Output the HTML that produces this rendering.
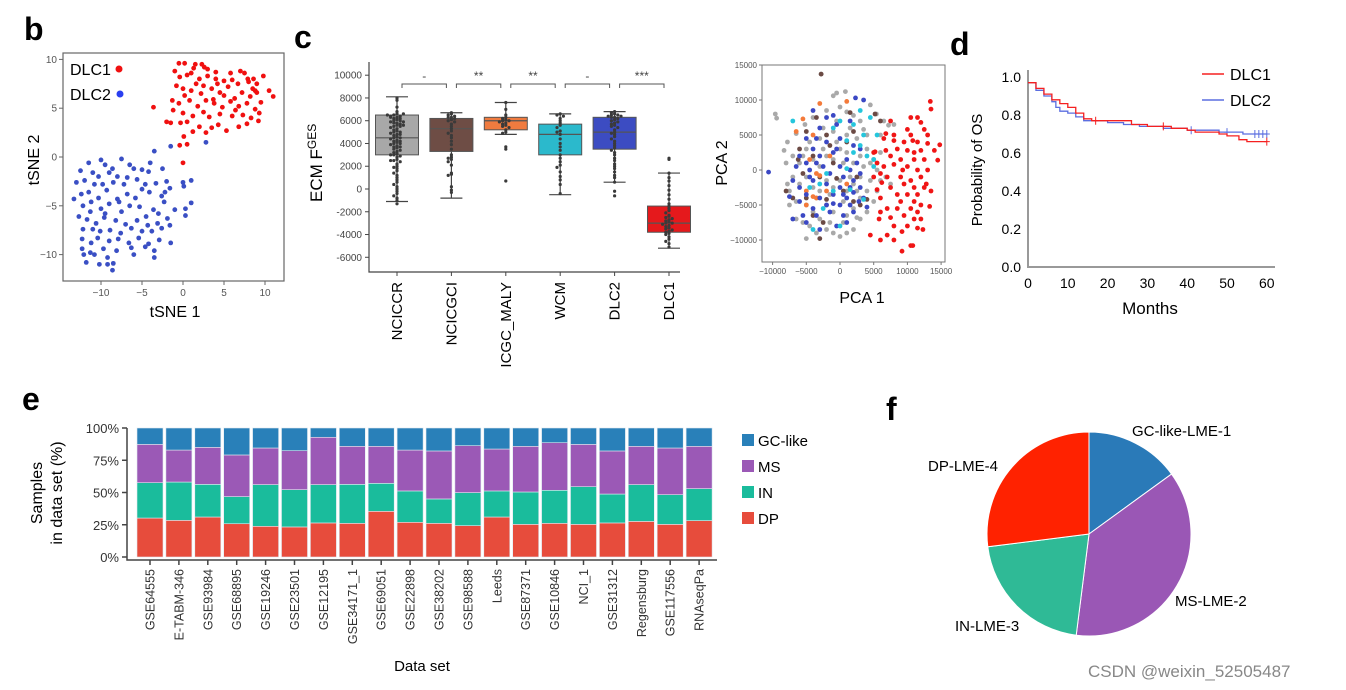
<!DOCTYPE html>
<html><head><meta charset="utf-8"><style>
html,body{margin:0;padding:0;background:#fff}
svg{display:block;font-family:"Liberation Sans",Arial,sans-serif}
</style></head><body>
<svg id="fig" width="1346" height="690" viewBox="0 0 1346 690">
<text x="24" y="40" font-size="32" font-weight="bold">b</text>
<text x="294" y="48" font-size="32" font-weight="bold">c</text>
<text x="950" y="55" font-size="32" font-weight="bold">d</text>
<text x="22" y="410" font-size="32" font-weight="bold">e</text>
<text x="886" y="420" font-size="32" font-weight="bold">f</text>
<g id="gb"></g>
<g id="gc"></g>
<g id="gp"></g>
<g id="gd"></g>
<g id="ge"></g>
<g id="gf"></g>
<text x="1088" y="677" font-size="17" fill="#888">CSDN @weixin_52505487</text>
</svg>
<script>
// ---------- data ----------
const tsneRed=[[-0.5,9.6],[0.2,9.6],[1.5,9.5],[2.3,9.5],[2.6,9.2],[-1,8.8],[0.5,8.4],[1,8.6],[2,8.0],[3,8.3],[4,8],[5,7.8],[6,7.9],[7,8.8],[7.5,8.6],[8,7.7],[9,7.5],[9.8,8.3],[10.5,6.8],[11,6.2],[-0.8,7.3],[0,7],[1,6.8],[2.2,6.5],[3.5,7],[4.5,6.6],[5.5,7.2],[6.3,6],[7.2,6.6],[8.2,6.2],[9,6.6],[-1.3,5.8],[-0.5,5.5],[0.8,5.8],[1.8,5.2],[2.8,5.8],[3.8,5.5],[4.8,5.1],[5.8,5.7],[6.8,5.2],[7.8,5.5],[8.8,4.9],[9.3,4.5],[-1.2,4.8],[0,4.5],[1.2,4.2],[2.5,4.6],[3.2,4.1],[4.5,4.4],[6,4.2],[7.3,4.3],[8.3,4],[9.2,3.7],[-2,3.6],[-1.5,3.5],[-0.3,3.5],[0.5,3.6],[2,3.1],[3.5,3.0],[4.3,3.3],[5.3,2.7],[6.8,3.1],[7.8,3.4],[1.2,2.6],[2.8,2.5],[0.1,2.1],[-0.4,1.2],[0.5,1.3],[-3.6,5.1],[0,-0.6],[8.5,7.0],[6.7,7.5],[4,8.7],[3,9.0],[1.6,7.5],[5,6.3],[7.9,8],[8.8,6.8],[9.5,5.6],[6.4,4.8],[3.7,5.9],[0.2,6.3],[2.5,7.3],[-0.4,8.2],[1.3,9.1],[5.8,8.6],[8.6,8.0],[4.2,7.5]];
const tsneBlue=[[-11.5,-0.6],[-10,-0.3],[-9.5,-0.8],[-7.5,-0.2],[-6.5,-0.8],[-4,-0.6],[-3.5,0.6],[-1.5,1.1],[2.8,1.5],[-12.5,-1.4],[-11,-1.6],[-10.3,-2],[-9,-1.6],[-8,-2],[-6,-1.2],[-5,-1.3],[-4.2,-1.5],[-2.5,-1.2],[-13,-2.6],[-12,-2.4],[-10.8,-2.8],[-9.8,-2.8],[-8.5,-2.6],[-7.2,-2.8],[-5.6,-2.3],[-4.6,-2.8],[-3.3,-2.7],[-2,-2.5],[0,-2.6],[1,-2.4],[-12.4,-3.8],[-11.5,-3.6],[-10.3,-4.2],[-9.3,-3.4],[-8,-4.3],[-6.8,-3.8],[-5.8,-4.2],[-4.1,-3.6],[-2.6,-4],[-1.6,-3.2],[0.1,-3],[-13.3,-4.3],[-12.2,-5],[-11.2,-4.6],[-10,-5.3],[-9,-4.8],[-7.5,-5.6],[-6.5,-5],[-5.3,-5.1],[-3.6,-5.4],[-2.3,-4.6],[-1,-5.4],[0.3,-5.3],[1,-4.7],[-12.7,-6.1],[-11.7,-6.4],[-10.6,-6.8],[-9.6,-6.2],[-8.2,-6.5],[-7,-6.9],[-5.6,-6.5],[-4.5,-6.1],[-3.1,-6.8],[-1.9,-6.3],[0.3,-6],[-12.2,-7.4],[-11,-7.4],[-10.1,-7.6],[-8.9,-7.5],[-7.6,-7.8],[-6.3,-7.3],[-5,-7.6],[-3.8,-7.6],[-2.6,-7.3],[-1.6,-7],[-12.3,-8.4],[-11.2,-8.8],[-10.4,-8.3],[-9,-8.6],[-7.9,-8.4],[-6.6,-8.8],[-5.4,-8.3],[-4.2,-8.9],[-2.9,-8.5],[-1.5,-8.8],[-12.3,-9.4],[-11.3,-9.8],[-9.7,-9.4],[-8.1,-9.6],[-6.3,-9.3],[-4.6,-9.2],[-3.5,-9.6],[-12.1,-10],[-10.8,-10],[-9.2,-10.3],[-6,-10],[-3.5,-10.3],[-11.8,-10.8],[-10.2,-11],[-9.2,-11],[-8.5,-10.9],[-8.6,-11.6],[-7.8,-4.6],[-5,-3.3],[-3,-5.8],[-8.6,-1.2],[-6.8,-2.1],[-2.2,-3.6],[-9.5,-5.8],[-11.3,-5.6],[-4.3,-7]];
const boxCats=["NCICCR","NCICGCI","ICGC_MALY","WCM","DLC2","DLC1"];
const boxQ1=[3000,3300,5200,3000,3500,-3800];
const boxMed=[4500,5300,6000,4800,5000,-3000];
const boxQ3=[6500,6200,6300,5700,6300,-1500];
const boxLo=[-1100,-800,4800,-500,600,-5200];
const boxHi=[8100,6700,7600,6600,6800,1400];
const boxColors=["#a8a8a8","#6e4d45","#f07b3f","#2bb9cc","#3c4cc2","#e5191c"];
const sigLabels=["-","**","**","-","***"];
const swarm=[
[8000,7800,7200,6800,6600,6500,6400,6400,6300,6200,6200,6100,6000,6000,5900,5800,5800,5700,5600,5500,5500,5400,5300,5200,5100,5000,5000,4900,4800,4700,4600,4500,4500,4400,4300,4200,4100,4000,4000,3900,3800,3700,3600,3500,3400,3300,3200,3100,3000,2900,2800,2600,2500,2400,2200,2000,1900,1800,1600,1400,1200,1000,800,600,400,200,0,-200,-400,-600,-800,-1000,-1300,6600,6500,6300,5900,5600,4800,4200,3700,3000,2500],
[6700,6600,6500,6400,6300,6300,6200,6100,6000,5900,5700,5500,5300,5100,4900,4700,4500,4200,3900,3500,3000,2800,2700,2600,2400,2100,1400,1300,1200,200,-100,-300],
[7600,7000,6500,6300,6200,6100,6000,6000,5900,5800,5700,5600,5500,5400,5200,5000,4900,3700,3500,700],
[6600,6500,6400,6200,6000,5800,5600,5400,5100,5000,4800,4400,4000,3700,3400,3000,2700,2400,2100,1900,1500,1100,800,400,-400],
[6800,6700,6600,6500,6500,6400,6400,6300,6300,6200,6100,6000,5900,5800,5700,5600,5500,5400,5200,5000,4900,4800,4600,4400,4200,4000,3800,3600,3400,3200,3000,2700,2500,2200,2000,1800,1500,1200,1000,600,-200,-600],
[2700,2600,1400,1000,700,300,-100,-500,-900,-1300,-1500,-1700,-1900,-2100,-2300,-2400,-2500,-2600,-2700,-2800,-2900,-3000,-3000,-3100,-3200,-3300,-3400,-3500,-3600,-3700,-3800,-3900,-4000,-4200,-4400,-4600,-4800,-5100]];
const pcaGray=[[-9.6,8],[-9.4,7.4],[-2.8,13.7],[-0.5,11],[0.8,11.2],[-1,10.6],[-6.5,5.2],[-7.8,4],[-8.3,2.8],[-7,2],[-5.2,6.5],[-4,7.5],[-2,8.5],[0,9],[1,8.3],[2,7.8],[3,7],[4.5,9.3],[5.4,8],[6.5,7],[7.2,6.4],[8,6.5],[6,5],[4,5],[2.5,4.5],[1,5],[-1,5.5],[-3,4.5],[-5,3],[-6,1],[-7,-1],[-7.5,-3],[-6.5,-4.5],[-7.5,-5],[-6.5,-7],[-5.5,-7.5],[-4.5,-8],[-3.5,-9],[-5,-9.8],[-2,-8.5],[-1,-9],[0,-9.5],[1,-9],[2,-8.5],[3,-7],[4,-6],[5,-4.5],[5.5,-3],[6,-1.5],[5.5,0],[5,1.5],[4,3],[3,2],[2,1],[1,2.5],[0,3],[-1,1.5],[-2,2],[-3,0.5],[-4,1.5],[-5,-1],[-4,-2.5],[-3,-3],[-2,-1.5],[-1,-2.5],[0,-1.5],[1,-3],[2,-2],[3,-4],[4,-3],[3,-1],[2,-5.5],[1,-6.5],[-1,-6],[-2,-5],[-3,-7],[-4,-6],[-5,-5],[-6,-2],[-4.5,4],[-2.5,6],[-0.5,7],[1.5,6],[3.5,5.8],[4.5,1],[-5.5,2],[-3.5,-4],[-1.5,-3.5],[0.5,-4.5],[2.5,-3],[-2.5,3],[0.5,1],[1.5,-1],[3.5,0.5],[4.5,-1.5],[-0.5,4],[-1.5,-7.5],[0.5,-7.5],[2.5,-6.8],[6.8,-1],[7.5,-2],[-8,1],[-7.8,-2],[6,2.5]];
const pcaBlue=[[-10.6,-0.3],[3.5,10],[2.3,10.3],[-4,8.5],[-1,7.8],[-0.5,6.5],[1.5,7],[-3,6],[-5,4.5],[-2,4],[0,4.5],[2,3.5],[3,3],[-4,3],[-6,2],[-5,1],[-3,2],[-1,2.5],[1,1.5],[2.5,1],[-4.5,0],[-2.5,0.5],[0,0.5],[1.5,0],[3,-0.5],[-7,-1.5],[-6,-2.5],[-4,-1.5],[-2,-2],[0,-2.5],[1.5,-2.5],[3,-2.5],[-7.5,-3.8],[-5,-3.5],[-3,-4],[-1,-3.5],[0.5,-3.5],[2,-3.2],[3.5,-4],[-6,-4.5],[-4,-5.5],[-2,-5],[0,-5],[1.5,-5],[-5.5,-6.5],[-3.5,-6.5],[-1.5,-6],[0.5,-6.5],[2,-6],[-7,-7],[-5,-7.5],[-3,-8.5],[-0.5,-8],[1,-7.5],[-4.5,-1],[-3.5,1],[-1.5,-0.5],[0.5,-1],[2,-1.5],[-2,7.5],[-3.5,4.5],[-0.5,3],[1,-4],[-6.5,0.5],[4,-5.3],[-1,-4.8],[2.8,-4.5]];
const pcaBrown=[[-2.8,13.7],[-3.5,7.5],[1.5,8.2],[5.2,8],[6,7],[-5,5.5],[-2,5],[1,4],[-6,3],[-4,2],[-1,1],[-5.5,-0.5],[-3,-1],[-8,-3],[-7,-4],[-5,-4],[-2,-4.2],[2,-4.5],[3,-5],[-4,-6.5],[-2.5,-7.5],[-3,-9.8],[0.5,-3],[2.5,-1],[-0.5,-1.2],[-6.2,1.5],[4,-4.2],[-1.5,3.5],[2,5.5]];
const pcaOrange=[[1,9.8],[-5.5,7.3],[-3,9.5],[-4,5],[-1.5,2],[-3.5,-0.5],[-3,-0.8],[-5,-3],[-4,-3.8],[-2,-3],[-5,-5],[-3.5,-4],[1,-2],[-6.5,5.5],[-4.5,1.5]];
const pcaCyan=[[-7,7],[3,8.5],[4.5,7.5],[0,7],[-1,6],[2,6.5],[3.5,5],[5.5,5],[1,4.2],[3,3.5],[4,2],[5,1.5],[2,2.5],[5,0.5],[-2,-0.5],[-3,-2],[-1,-3],[1.5,-2.8],[3.5,-4.2],[-4,-8.5],[0,-8],[-2.5,-5.5],[-4.5,-2.5],[1,0.2]];
const pcaRed=[[13.4,9.8],[13.5,8.7],[10.5,7.5],[11.5,7.5],[12,6.8],[7.5,7],[10,5.8],[12.5,5.8],[6.8,5.2],[8,5],[10.5,5],[13,5],[6.5,4.5],[8,4.2],[9.5,4],[11.5,4],[13,3.8],[14.8,3.6],[5,2.5],[6.8,2.8],[8.5,3],[10,2.8],[11,2.5],[12,2.8],[14,2.8],[7.5,2],[9,1.5],[11,1.5],[12.5,1.5],[14.5,1.4],[5.5,1],[6.5,0.5],[8,0.8],[10,0.5],[11.5,0],[13,0],[6,-0.5],[7,-1],[9,-1],[10.5,-1.5],[12,-1],[7.5,-2.5],[9.5,-2],[11,-2.5],[12.5,-2.5],[5.5,-2.8],[8.5,-3.5],[10,-3.5],[11.5,-3.5],[13.5,-3],[6,-4],[9,-4.5],[11,-4.5],[12,-5],[13.3,-5.2],[7,-5.5],[8.5,-5.5],[10.5,-5.5],[11.5,-6],[6,-6],[7.5,-6.8],[9.5,-6.5],[11,-7],[12,-7],[5.8,-7],[8,-8],[10,-8],[11.5,-8.3],[12.3,-8.5],[4.5,-9.3],[6,-10],[7,-9.3],[8,-10],[9.2,-8.8],[10.5,-10.8],[10.8,-10.8],[9.2,-11.6],[5.2,2.6],[6.2,-1.8],[12.8,-2],[5,-1],[9.3,0],[10.8,4.2]];
const kmMonths1=[0,2,4,6,8,10,12,14,16,24,26,30,36,40,42,48,50,53,55,60];
const kmSurv1=[0.97,0.94,0.91,0.88,0.86,0.84,0.81,0.78,0.77,0.77,0.75,0.74,0.73,0.72,0.71,0.70,0.69,0.67,0.66,0.66];
const kmCens1=[17,34,60];
const kmMonths2=[0,2,4,6,7,8,10,12,14,16,20,24,28,34,40,44,48,54,60];
const kmSurv2=[0.97,0.93,0.90,0.87,0.84,0.82,0.81,0.79,0.77,0.77,0.76,0.75,0.74,0.73,0.72,0.72,0.71,0.70,0.70];
const kmCens2=[41,50,57,58,59,60];
const kmYTicks=["0.0","0.2","0.4","0.6","0.8","1.0"];
const kmXTicks=[0,10,20,30,40,50,60];
const barCats=["GSE64555","E-TABM-346","GSE93984","GSE68895","GSE19246","GSE23501","GSE12195","GSE34171_1","GSE69051","GSE22898","GSE38202","GSE98588","Leeds","GSE87371","GSE10846","NCI_1","GSE31312","Regensburg","GSE117556","RNAseqPa"];
const barDP=[30.2,28.4,31.0,25.8,23.8,23.3,26.4,26.1,35.4,26.9,26.1,24.3,31.0,25.3,26.1,25.3,26.4,27.6,25.3,28.2];
const barIN=[27.4,29.7,25.3,21.0,32.3,28.9,29.7,30.2,21.7,24.3,18.9,25.6,20.2,25.1,25.6,29.2,22.4,28.5,23.0,24.8];
const barMS=[29.7,24.8,28.7,32.3,28.4,30.2,36.7,29.5,28.7,31.7,37.2,36.4,32.5,35.4,36.9,32.8,33.4,29.7,36.2,32.8];
const barGC=[12.7,17.1,15.0,20.9,15.5,17.6,7.2,14.2,14.2,17.1,17.8,13.7,16.3,14.2,11.4,12.7,17.8,14.2,15.5,14.2];
const barYTicks=["0%","25%","50%","75%","100%"];
const pieLabels=["GC-like-LME-1","MS-LME-2","IN-LME-3","DP-LME-4"];
const pieValues=[15,37,21,27];

// ---------- helpers ----------
const NS="http://www.w3.org/2000/svg";
function mk(parent,tag,attrs,txt){const e=document.createElementNS(NS,tag);for(const k in attrs)e.setAttribute(k,attrs[k]);if(txt!==undefined)e.textContent=txt;parent.appendChild(e);return e;}

// ---------- panel b: tSNE ----------
(function(){
const g=document.getElementById('gb');
const sx=v=>183+8.2*v, sy=v=>157-9.76*v;
let f=mk(g,'rect',{x:63,y:53,width:221,height:228,fill:'none',stroke:'#666','stroke-width':1.2});

[-10,-5,0,5,10].forEach(v=>{
 let t=mk(g,'line',{x1:sx(v),x2:sx(v),y1:281,y2:285,stroke:'#666'});
 let l=mk(g,'text',{x:sx(v),y:296,'font-size':10,fill:'#555','text-anchor':'middle'},v<0?'−'+(-v):v);
 let t2=mk(g,'line',{x1:59,x2:63,y1:sy(v),y2:sy(v),stroke:'#666'});
 let l2=mk(g,'text',{x:57,y:sy(v)+3.5,'font-size':10,fill:'#555','text-anchor':'end'},v<0?'−'+(-v):v);
});
tsneRed.forEach(p=>{let c=mk(g,'circle',{cx:sx(p[0]),cy:sy(p[1]),r:2.4,fill:'#f01010'});});
tsneBlue.forEach(p=>{let c=mk(g,'circle',{cx:sx(p[0]),cy:sy(p[1]),r:2.4,fill:'#3a4fc4'});});
let a=mk(g,'text',{x:70,y:75,'font-size':16},'DLC1');
let ac=mk(g,'circle',{cx:119,cy:69,r:3.5,fill:'#f01010'});
let b=mk(g,'text',{x:70,y:100,'font-size':16},'DLC2');
let bc=mk(g,'circle',{cx:120,cy:94,r:3.5,fill:'#2a3ff0'});
let xt=mk(g,'text',{x:175,y:317,'font-size':16,'text-anchor':'middle'},'tSNE 1');
let yt=mk(g,'text',{x:0,y:0,'font-size':16,'text-anchor':'middle',transform:'translate(39,160) rotate(-90)'},'tSNE 2');
})();

// ---------- panel c: boxplot ----------
(function(){
const g=document.getElementById('gc');
const sy=v=>189-v*0.01138;
const cx=i=>397+i*54.4;
let ax=mk(g,'path',{d:'M369,62 V272 H680',fill:'none',stroke:'#444','stroke-width':1.2});
for(let v=-6000;v<=10000;v+=2000){
 let t=mk(g,'line',{x1:365,x2:369,y1:sy(v),y2:sy(v),stroke:'#444'});
 let l=mk(g,'text',{x:362,y:sy(v)+3.5,'font-size':10,fill:'#444','text-anchor':'end'},v);
}
let yt=mk(g,'text',{x:0,y:0,'font-size':17,'text-anchor':'start',transform:'translate(322,202) rotate(-90)'},'ECM F');
let ys=mk(yt,'tspan',{'font-size':12,dy:-6},'GES');
boxCats.forEach((c,i)=>{
 const x=cx(i),w=43;
 let wl=mk(g,'line',{x1:x,x2:x,y1:sy(boxLo[i]),y2:sy(boxHi[i]),stroke:'#444','stroke-width':1.2});
 [boxLo[i],boxHi[i]].forEach(v=>{let cap=mk(g,'line',{x1:x-11,x2:x+11,y1:sy(v),y2:sy(v),stroke:'#444','stroke-width':1.2});});
 let r=mk(g,'rect',{x:x-w/2,y:sy(boxQ3[i]),width:w,height:sy(boxQ1[i])-sy(boxQ3[i]),fill:boxColors[i],stroke:'#555','stroke-width':1});
 let m=mk(g,'line',{x1:x-w/2,x2:x+w/2,y1:sy(boxMed[i]),y2:sy(boxMed[i]),stroke:'#555','stroke-width':1.2});
 const bins={};
 swarm[i].forEach(v=>{const b=Math.round(v/250);const n=bins[b]=(bins[b]||0)+1;const off=(n%2?1:-1)*Math.floor(n/2)*3.2;
  let d=mk(g,'circle',{cx:x+off,cy:sy(v),r:1.6,fill:'#3a3a3a'});});
 let t=mk(g,'line',{x1:x,x2:x,y1:272,y2:276,stroke:'#444'});
 let l=mk(g,'text',{x:0,y:0,'font-size':15,'text-anchor':'end',transform:`translate(${x+5},282) rotate(-90)`},c);
});
sigLabels.forEach((s,i)=>{
 const x1=cx(i)+5,x2=cx(i+1)-5;
 let br=mk(g,'path',{d:`M${x1},88 V84 H${x2} V88`,fill:'none',stroke:'#555','stroke-width':1});
 let tx=mk(g,'text',{x:(x1+x2)/2,y:80,'font-size':12,fill:'#444','text-anchor':'middle'},s);
});
})();

// ---------- PCA ----------
(function(){
const g=document.getElementById('gp');
const sx=v=>840+v*6.74, sy=v=>170-v*7;
let f=mk(g,'rect',{x:762,y:65,width:183,height:197,fill:'none',stroke:'#777','stroke-width':1});
[-10,-5,0,5,10,15].forEach(v=>{
 let t=mk(g,'line',{x1:sx(v),x2:sx(v),y1:262,y2:265,stroke:'#777'});
 let l=mk(g,'text',{x:sx(v),y:274,'font-size':8,fill:'#555','text-anchor':'middle'},v<0?'−'+(-v*1000):v*1000);
});
[-10,-5,0,5,10,15].forEach(v=>{
 let t=mk(g,'line',{x1:759,x2:762,y1:sy(v),y2:sy(v),stroke:'#777'});
 let l=mk(g,'text',{x:757,y:sy(v)+3,'font-size':8,fill:'#555','text-anchor':'end'},v<0?'−'+(-v*1000):v*1000);
});
const sets=[[pcaGray,'#a9a9a9','pca-point-gray'],[pcaBrown,'#6b4a44','pca-point-brown'],[pcaOrange,'#f47a3a','pca-point-orange'],[pcaBlue,'#3b48c4','pca-point-blue'],[pcaCyan,'#25c6dc','pca-point-cyan'],[pcaRed,'#f01515','pca-point-red']];
sets.forEach(s=>s[0].forEach(p=>{let c=mk(g,'circle',{cx:sx(p[0]),cy:sy(p[1]),r:2.4,fill:s[1]});}));
let xt=mk(g,'text',{x:862,y:303,'font-size':16,'text-anchor':'middle'},'PCA 1');
let yt=mk(g,'text',{x:0,y:0,'font-size':16,'text-anchor':'middle',transform:'translate(727,163) rotate(-90)'},'PCA 2');
})();

// ---------- panel d: KM ----------
(function(){
const g=document.getElementById('gd');
const sx=v=>1028+v*3.98, sy=v=>267-v*190;
let ax=mk(g,'path',{d:'M1028,70 V267 H1275',fill:'none',stroke:'#999','stroke-width':2});
kmYTicks.forEach(s=>{const v=+s;let l=mk(g,'text',{x:1021,y:sy(v)+5,'font-size':14,'text-anchor':'end'},s);});
kmXTicks.forEach(v=>{let l=mk(g,'text',{x:sx(v),y:288,'font-size':14,'text-anchor':'middle'},v);});
function curve(ms,ss,cens,col,name){
 let d=`M${sx(ms[0])},${sy(ss[0])}`;
 for(let i=1;i<ms.length;i++){d+=` H${sx(ms[i])} V${sy(ss[i])}`;}
 let p=mk(g,'path',{d:d,fill:'none',stroke:col,'stroke-width':1.3});
 cens.forEach(m=>{let s=ss[0];for(let i=0;i<ms.length;i++)if(ms[i]<=m)s=ss[i];
  let c=mk(g,'path',{d:`M${sx(m)},${sy(s)-4} v8 M${sx(m)-3},${sy(s)} h6`,stroke:col,'stroke-width':1});});
}
curve(kmMonths2,kmSurv2,kmCens2,'#5b6ee0','km-curve-dlc2');
curve(kmMonths1,kmSurv1,kmCens1,'#f52020','km-curve-dlc1');
let l1=mk(g,'line',{x1:1202,x2:1224,y1:74,y2:74,stroke:'#f52020','stroke-width':1.5});
let t1=mk(g,'text',{x:1230,y:80,'font-size':16},'DLC1');
let l2=mk(g,'line',{x1:1202,x2:1224,y1:100,y2:100,stroke:'#5b6ee0','stroke-width':1.5});
let t2=mk(g,'text',{x:1230,y:106,'font-size':16},'DLC2');
let xt=mk(g,'text',{x:1150,y:314,'font-size':17,'text-anchor':'middle'},'Months');
let yt=mk(g,'text',{x:0,y:0,'font-size':15,'text-anchor':'middle',transform:'translate(982,170) rotate(-90)'},'Probability of OS');
})();

// ---------- panel e: stacked bars ----------
(function(){
const g=document.getElementById('ge');
const y0=557,h=129,sy=v=>y0-v/100*h;
const bx=i=>137+i*28.9, bw=26;
let ax=mk(g,'path',{d:'M127,428 V560 H717',fill:'none',stroke:'#444','stroke-width':1.5});
barYTicks.forEach((s,i)=>{const v=i*25;
 let t=mk(g,'line',{x1:122,x2:127,y1:sy(v),y2:sy(v),stroke:'#444','stroke-width':1.5});
 let l=mk(g,'text',{x:119,y:sy(v)+5,'font-size':13,fill:'#333','text-anchor':'end'},s);
});
const cols=['#e74c3c','#1abc9c','#9b59b6','#2980b9'];
const names=['dp','in','ms','gc-like'];
barCats.forEach((c,i)=>{
 const vals=[barDP[i],barIN[i],barMS[i],barGC[i]];let acc=0;
 vals.forEach((v,k)=>{let r=mk(g,'rect',{x:bx(i),y:sy(acc+v),width:bw,height:v/100*h,fill:cols[k],stroke:'#dfe8ef','stroke-width':0.6});acc+=v;});
 const cx=bx(i)+bw/2;
 let t=mk(g,'line',{x1:cx,x2:cx,y1:560,y2:565,stroke:'#444','stroke-width':1.5});
 let l=mk(g,'text',{x:0,y:0,'font-size':12.5,fill:'#333','text-anchor':'end',transform:`translate(${cx+4.5},569) rotate(-90)`},c);
});
let xt=mk(g,'text',{x:422,y:671,'font-size':15,'text-anchor':'middle'},'Data set');
let yt=mk(g,'text',{x:0,y:0,'font-size':16,'text-anchor':'middle',transform:'translate(42,493) rotate(-90)'},'Samples');
let yt2=mk(g,'text',{x:0,y:0,'font-size':16,'text-anchor':'middle',transform:'translate(62,493) rotate(-90)'},'in data set (%)');
const leg=['GC-like','MS','IN','DP'],lc=['#2980b9','#9b59b6','#1abc9c','#e74c3c'];
leg.forEach((s,i)=>{
 let r=mk(g,'rect',{x:742,y:434+i*26,width:12,height:12,fill:lc[i]});
 let t=mk(g,'text',{x:758,y:446+i*26,'font-size':15},s);
});
})();

// ---------- panel f: pie ----------
(function(){
const g=document.getElementById('gf');
const cx=1089,cy=534,R=102;
const cols=['#2a7ab8','#9a57b5','#2fba96','#ff2200'];
const tot=pieValues.reduce((a,b)=>a+b,0);let a0=0;
pieValues.forEach((v,i)=>{
 const a1=a0+v/tot*2*Math.PI;
 const p=a=>[cx+R*Math.sin(a),cy-R*Math.cos(a)];
 const s=p(a0),e=p(a1);
 let path=mk(g,'path',{d:`M${cx},${cy} L${s[0]},${s[1]} A${R},${R} 0 ${a1-a0>Math.PI?1:0} 1 ${e[0]},${e[1]} Z`,fill:cols[i],stroke:'#fff','stroke-width':1});
 
 a0=a1;
});
const lp=[[1132,436],[1175,606],[955,631],[928,471]];
pieLabels.forEach((s,i)=>{let t=mk(g,'text',{x:lp[i][0],y:lp[i][1],'font-size':15},s);});
})();
</script>
</body></html>
